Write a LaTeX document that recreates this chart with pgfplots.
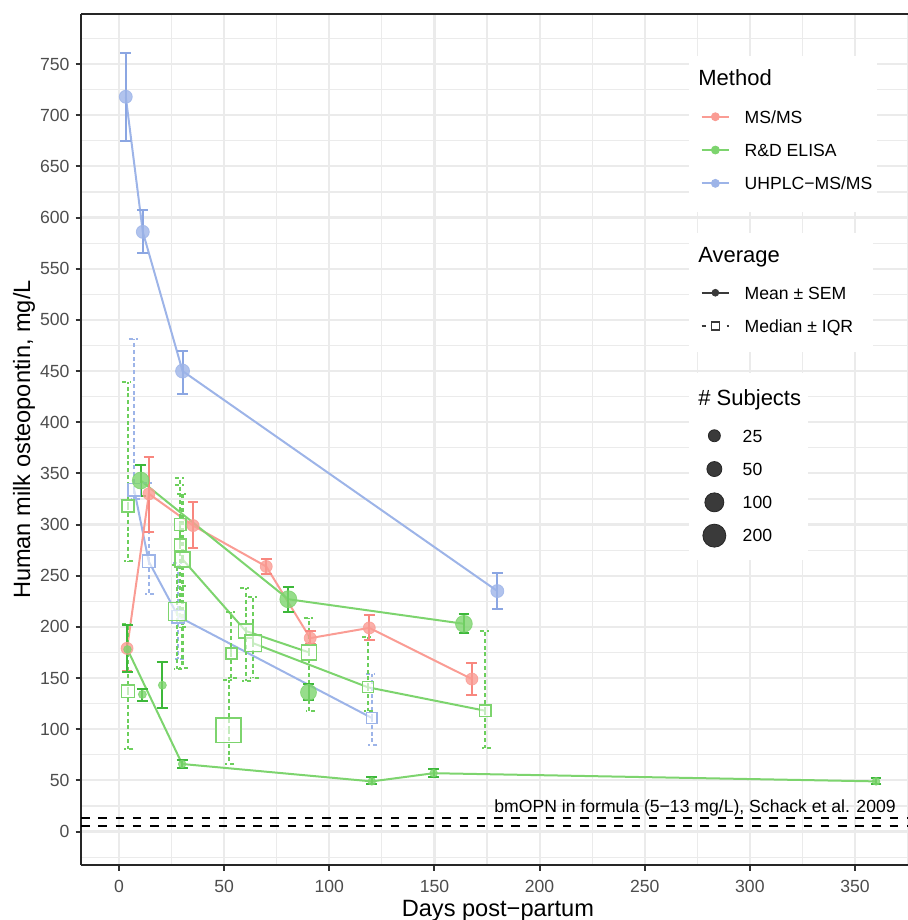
\documentclass[border=0pt]{standalone}
\usepackage{fontspec}
\setmainfont{Liberation Sans}
\usepackage{pgfplots}
\pgfplotsset{compat=1.18}
\usepackage{pgfplotstable}

\definecolor{redP}{HTML}{FA9C94}
\definecolor{redE}{HTML}{F8877F}
\definecolor{greenP}{HTML}{7DD46E}
\definecolor{greenE}{HTML}{3DB83A}
\definecolor{greenI}{HTML}{6CCF5C}
\definecolor{blueP}{HTML}{9DB4E8}
\definecolor{blueE}{HTML}{8BA6E2}
\definecolor{gridc}{HTML}{EBEBEB}
\definecolor{tickc}{HTML}{4D4D4D}
\definecolor{keyc}{HTML}{3A3A3A}

% columns: day, average, lower, upper, marker radius (pt)
\pgfplotstableread{
x y lo hi r
3.2 718 675 761 3.25
11.3 586 565 607 3.25
30.2 450 428 470 3.5
179.9 235 217 253 3.25
}\uhplcMean
\pgfplotstableread{
x y lo hi r
7.2 334 325 481 3.1
14.1 264 232 341 3.1
28.2 210 169 262 3.15
120.2 111 85 154 2.7
}\uhplcMed
\pgfplotstableread{
x y lo hi r
3.8 179 157 202 3
14.2 330 293 366 3
35.2 299 277 322 3
70 259 252 266 3
90.9 189 183 196 3
119 199 187 212 3
167.8 149 133 165 3
}\msMean
\pgfplotstableread{
x y lo hi r
4 178 156 202 1.9
30 66 62 70 1.9
120.2 49 46 53 1.9
149.6 57 53 61 1.9
360 49 46 52 1.9
}\elisaA
\pgfplotstableread{
x y lo hi r
10.3 343 328 358 4.2
80.5 227 215 239 4.25
164 203 194 213 4.2
}\elisaB
\pgfplotstableread{
x y lo hi r
11.1 134 128 139.5 2
20.6 143 121 166 2
90.1 136 129 144 4
}\elisaSingle
\pgfplotstableread{
x y lo hi r
30.2 266 160 330 3.75
60.2 196 147 238 3.6
90.4 175 117.5 209 3.75
}\elisaMedA
\pgfplotstableread{
x y lo hi r
63.8 184 150 229 4.2
118.3 141 118 190 2.75
174.2 118 82 196 2.9
}\elisaMedB
\pgfplotstableread{
x y lo hi r
4.2 318 264 439 3
4.2 137 81 203 3.2
29.1 300 240 345 2.9
29.1 280 200 339 2.9
27.6 215 159 260 4.4
53.4 174 150 215 2.75
52.1 99 66 148 6.2
}\elisaMedSingle

\pgfplotsset{
  /pgfplots/table/errtab/.style={x=x, y=y,
    y error plus expr=\thisrow{hi}-\thisrow{y},
    y error minus expr=\thisrow{y}-\thisrow{lo}},
  trend/.style={draw=#1, line width=1pt, mark=none},
  sem/.style={draw=none, mark=none,
    error bars/y dir=both, error bars/y explicit,
    error bars/error bar style={draw=#1, line width=1pt, solid},
    error bars/error mark options={draw=#1, rotate=90, mark size=2.7pt, line width=1pt, solid}},
  iqr/.style={draw=none, mark=none,
    error bars/y dir=both, error bars/y explicit,
    error bars/error bar style={draw=#1, line width=1.1pt, dash pattern=on 2pt off 1.4pt},
    error bars/error mark options={draw=#1, rotate=90, mark size=2.7pt, line width=1pt, dash pattern=on 2pt off 1.6pt on 0.8pt off 1.6pt}},
  dots/.style={scatter, only marks, mark=*, point meta=y,
    scatter/use mapped color={draw=#1, fill=#1, opacity=0.8},
    visualization depends on={\thisrow{r}\as\msz},
    scatter/@pre marker code/.append style={/tikz/mark size=\msz}},
  boxes/.style={scatter, only marks, mark=square*, point meta=y,
    scatter/use mapped color={draw=#1, fill=white, fill opacity=0.6, line width=0.75pt},
    visualization depends on={\thisrow{r}\as\msz},
    scatter/@pre marker code/.append style={/tikz/mark size=\msz}},
  keylegend/.style={hide axis, at={(0,0)}, anchor=south west, scale only axis,
    width=413.4pt, height=425.5pt, xmin=0, xmax=413.4, ymin=0, ymax=425.5,
    legend cell align=left,
    legend style={at={(axis cs:309.75,#1)}, anchor=north west, draw=none, fill=none,
      inner sep=0pt, outer sep=0pt, row sep=0pt, column sep=7.35pt,
      font=\fontsize{8.8}{10}\selectfont,
      nodes={inner sep=0pt, text height=11.475pt, text depth=5.175pt, anchor=base west}}},
}

\begin{document}
\begin{tikzpicture}
\begin{axis}[name=ax, at={(0,0)}, anchor=south west,
  scale only axis, width=413.4pt, height=425.5pt,
  xmin=-18, xmax=375.2, ymin=-32.8, ymax=798.8,
  axis x line=box, axis y line=left,
  x axis line style={-}, y axis line style={-},
  axis line style={draw=black!85, line width=1pt},
  xtick={0,50,...,350}, ytick={0,50,...,750},
  minor xtick={25,75,...,375}, minor ytick={-25,25,...,775},
  grid=both,
  major grid style={draw=gridc, line width=1.07pt},
  minor grid style={draw=gridc, line width=0.55pt},
  tick align=outside, xtick pos=left, ytick pos=left,
  major tick length=2.75pt, minor tick length=0pt,
  every tick/.style={draw=black!80, line width=1pt},
  /pgf/number format/assume math mode=true,
  ticklabel style={font=\fontsize{8.8}{10}\selectfont, text=tickc, inner sep=0pt},
  xticklabel style={anchor=base, yshift=-11pt},
  yticklabel style={anchor=east, xshift=-2.9pt},
  xlabel={Days post−partum},
  ylabel={Human milk osteopontin, mg/L},
  label style={font=\fontsize{11.8}{14}\selectfont},
  xlabel style={at={(axis description cs:0.504,-0.0605)}, anchor=base},
  ylabel style={at={(axis description cs:-0.0619,0.5)}, anchor=base},
]
% formula reference band
\addplot[black, line width=1.07pt, dash pattern=on 4.3pt off 4.3pt] coordinates {(-18,5) (375.2,5)};
\addplot[black, line width=1.07pt, dash pattern=on 4.3pt off 4.3pt] coordinates {(-18,13) (375.2,13)};
\node[anchor=base east, font=\fontsize{8.8}{10}\selectfont] at (axis cs:372.7,18.8)
  {bmOPN in formula (5−13 mg/L), Schack et al. 2009};

% connecting lines
\addplot[trend=blueP] table[x=x, y=y] {\uhplcMean};
\addplot[trend=blueP] table[x=x, y=y] {\uhplcMed};
\addplot[trend=redP] table[x=x, y=y] {\msMean};
\addplot[trend=greenP] table[x=x, y=y] {\elisaA};
\addplot[trend=greenP] table[x=x, y=y] {\elisaB};
\addplot[trend=greenP] table[x=x, y=y] {\elisaMedA};
\addplot[trend=greenP] table[x=x, y=y] {\elisaMedB};

% median +- IQR
\addplot[iqr=blueP] table[errtab] {\uhplcMed};
\addplot[iqr=greenI] table[errtab] {\elisaMedA};
\addplot[iqr=greenI] table[errtab] {\elisaMedB};
\addplot[iqr=greenI] table[errtab] {\elisaMedSingle};

% mean +- SEM
\addplot[sem=blueE] table[errtab] {\uhplcMean};
\addplot[sem=redE] table[errtab] {\msMean};
\addplot[sem=greenE] table[errtab] {\elisaA};
\addplot[sem=greenE] table[errtab] {\elisaB};
\addplot[sem=greenE] table[errtab] {\elisaSingle};

% markers
\addplot[boxes=blueP] table[x=x, y=y] {\uhplcMed};
\addplot[boxes=greenP] table[x=x, y=y] {\elisaMedA};
\addplot[boxes=greenP] table[x=x, y=y] {\elisaMedB};
\addplot[boxes=greenP] table[x=x, y=y] {\elisaMedSingle};
\addplot[dots=blueP] table[x=x, y=y] {\uhplcMean};
\addplot[dots=redP] table[x=x, y=y] {\msMean};
\addplot[dots=greenP] table[x=x, y=y] {\elisaA};
\addplot[dots=greenP] table[x=x, y=y] {\elisaB};
\addplot[dots=greenP] table[x=x, y=y] {\elisaSingle};
\end{axis}

% legend backgrounds and titles
\fill[white] (303.9pt,326.55pt) rectangle (397.9pt,404.55pt);
\fill[white] (303.9pt,256.55pt) rectangle (395.9pt,316.05pt);
\fill[white] (303.9pt,152.55pt) rectangle (363.4pt,246.05pt);
\node[anchor=base west, inner sep=0pt, font=\fontsize{11}{13}\selectfont] at (308.4pt,389.7pt) {Method};
\node[anchor=base west, inner sep=0pt, font=\fontsize{11}{13}\selectfont] at (308.4pt,301.2pt) {Average};
\node[anchor=base west, inner sep=0pt, font=\fontsize{11}{13}\selectfont] at (308.4pt,229.7pt) {\# Subjects};

\begin{axis}[keylegend=382.5]
\addlegendimage{legend image code/.code={
  \draw[redP, line width=1pt] (0pt,3.15pt) -- (13.65pt,3.15pt);
  \fill[redP] (6.825pt,3.15pt) circle (2pt);}}
\addlegendentry{MS/MS}
\addlegendimage{legend image code/.code={
  \draw[greenP, line width=1pt] (0pt,3.15pt) -- (13.65pt,3.15pt);
  \fill[greenP] (6.825pt,3.15pt) circle (2pt);}}
\addlegendentry{R\&D ELISA}
\addlegendimage{legend image code/.code={
  \draw[blueP, line width=1pt] (0pt,3.15pt) -- (13.65pt,3.15pt);
  \fill[blueP] (6.825pt,3.15pt) circle (2pt);}}
\addlegendentry{UHPLC−MS/MS}
\end{axis}

\begin{axis}[keylegend=294.5]
\addlegendimage{legend image code/.code={
  \draw[keyc, line width=1pt] (0pt,3.15pt) -- (13.65pt,3.15pt);
  \fill[keyc] (6.825pt,3.15pt) circle (1.7pt);}}
\addlegendentry{Mean ± SEM}
\addlegendimage{legend image code/.code={
  \draw[keyc, line width=1pt, dash pattern=on 2.2pt off 2.3pt on 4.5pt off 3.5pt on 1.07pt off 2pt] (0pt,3.15pt) -- (13.65pt,3.15pt);
  \draw[keyc, fill=white, line width=0.7pt] (4.825pt,1.15pt) rectangle (8.825pt,5.15pt);}}
\addlegendentry{Median ± IQR}
\end{axis}

\begin{axis}[keylegend=223.0]
\addlegendimage{legend image code/.code={
  \path[draw=none] (0pt,3.15pt) -- (13.65pt,3.15pt);
  \filldraw[fill=keyc, draw=black!85, line width=0.4pt] (6.825pt,3.15pt) circle (3pt);}}
\addlegendentry{25}
\addlegendimage{legend image code/.code={
  \path[draw=none] (0pt,3.15pt) -- (13.65pt,3.15pt);
  \filldraw[fill=keyc, draw=black!85, line width=0.4pt] (6.825pt,3.15pt) circle (3.75pt);}}
\addlegendentry{50}
\addlegendimage{legend image code/.code={
  \path[draw=none] (0pt,3.15pt) -- (13.65pt,3.15pt);
  \filldraw[fill=keyc, draw=black!85, line width=0.4pt] (6.825pt,3.15pt) circle (4.75pt);}}
\addlegendentry{100}
\addlegendimage{legend image code/.code={
  \path[draw=none] (0pt,3.15pt) -- (13.65pt,3.15pt);
  \filldraw[fill=keyc, draw=black!85, line width=0.4pt] (6.825pt,3.15pt) circle (5.75pt);}}
\addlegendentry{200}
\end{axis}

\pgfresetboundingbox
\path (-40.6pt,-27.45pt) rectangle (413.4pt,432.55pt);
\end{tikzpicture}
\end{document}
